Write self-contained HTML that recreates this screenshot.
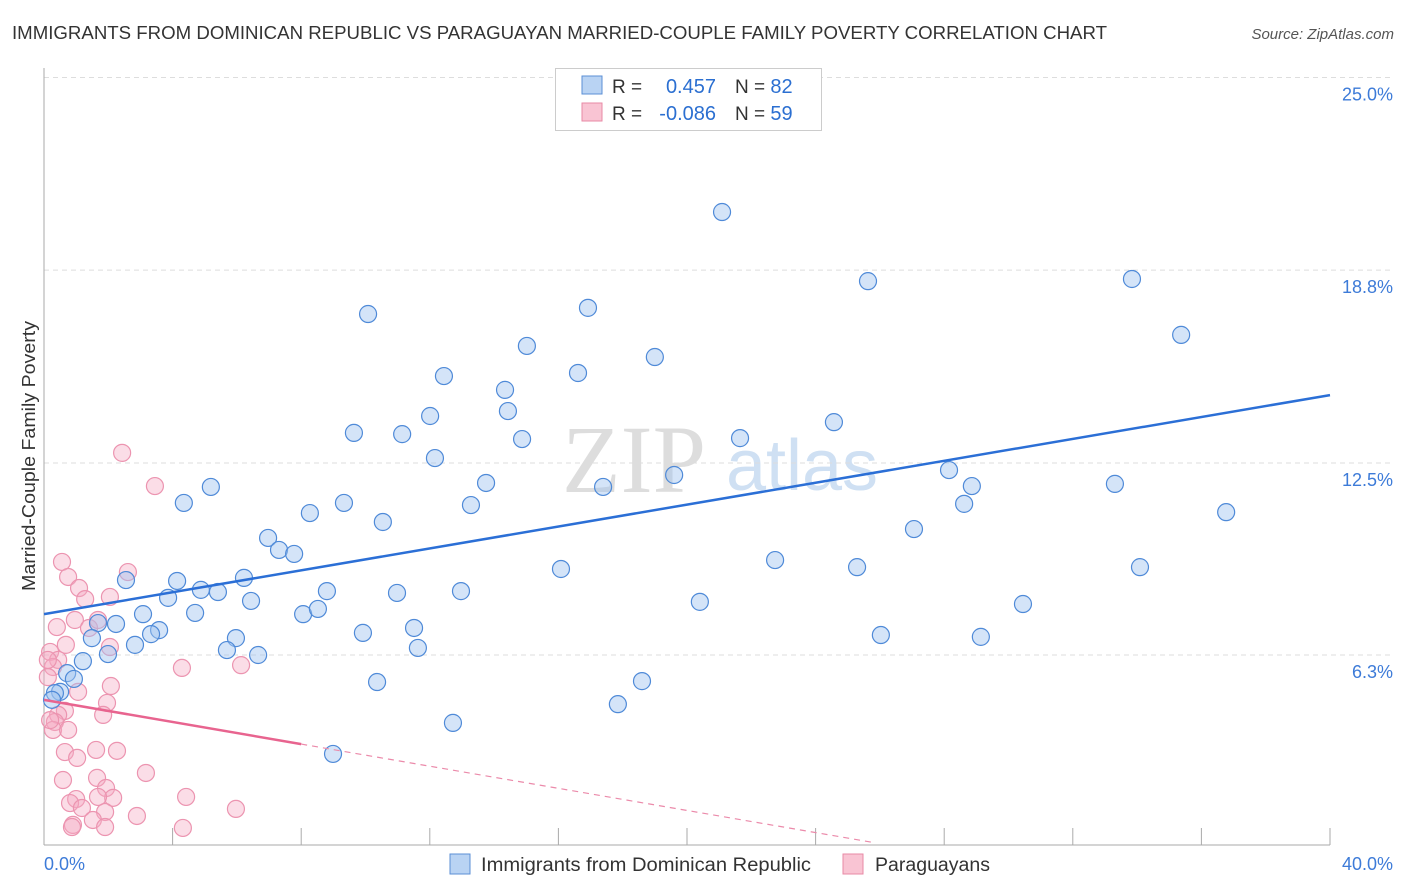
<!DOCTYPE html>
<html><head><meta charset="utf-8">
<style>
body{margin:0;background:#fff;font-family:"Liberation Sans",sans-serif;}
#wrap{position:relative;width:1406px;height:892px;overflow:hidden;}
</style></head>
<body>
<div id="wrap">
<svg id="svg" width="1406" height="892" xmlns="http://www.w3.org/2000/svg">
<text x="12" y="39" font-size="18" fill="#333" textLength="1095" lengthAdjust="spacingAndGlyphs">IMMIGRANTS FROM DOMINICAN REPUBLIC VS PARAGUAYAN MARRIED-COUPLE FAMILY POVERTY CORRELATION CHART</text>
<text x="1394" y="39" font-size="15" fill="#555" font-style="italic" text-anchor="end">Source: ZipAtlas.com</text>
<text x="634" y="492" font-size="96" fill="#ddd" font-family="Liberation Serif" text-anchor="middle">ZIP</text>
<text x="802" y="490" font-size="72" fill="#cfe0f3" text-anchor="middle">atlas</text>
<g id="grid"></g>
<g id="axes"></g>
<g id="pts"></g>
<g id="trend"></g>
<text transform="translate(35,456) rotate(-90)" font-size="18" fill="#333" text-anchor="middle" textLength="270" lengthAdjust="spacingAndGlyphs">Married-Couple Family Poverty</text>
<g>
<rect x="555.5" y="68.5" width="266" height="62" fill="#fff" stroke="#ccc"/>
<rect x="582" y="76" width="20" height="18" fill="#b9d3f3" stroke="#5b8fd6"/>
<rect x="582" y="103" width="20" height="18" fill="#f9c4d3" stroke="#e88aa6"/>
<text x="612" y="93" font-size="19" fill="#333">R =</text>
<text x="716" y="93" font-size="20" fill="#2b6fd1" text-anchor="end">0.457</text>
<text x="735" y="93" font-size="19" fill="#333">N = <tspan fill="#2b6fd1" font-size="20">82</tspan></text>
<text x="612" y="120" font-size="19" fill="#333">R =</text>
<text x="716" y="120" font-size="20" fill="#2b6fd1" text-anchor="end">-0.086</text>
<text x="735" y="120" font-size="19" fill="#333">N = <tspan fill="#2b6fd1" font-size="20">59</tspan></text>
</g>
<g>
<rect x="450" y="854" width="20" height="20" fill="#b9d3f3" stroke="#5b8fd6"/>
<text x="481" y="871" font-size="19" fill="#333" textLength="330" lengthAdjust="spacingAndGlyphs">Immigrants from Dominican Republic</text>
<rect x="843" y="854" width="20" height="20" fill="#f9c4d3" stroke="#e88aa6"/>
<text x="875" y="871" font-size="19" fill="#333" textLength="115" lengthAdjust="spacingAndGlyphs">Paraguayans</text>
</g>
</svg>
</div>
<script>
const blueX=[21.09,25.63,33.84,35.37,10.08,16.92,15.02,19.0,12.44,16.61,14.34,14.43,12.01,9.64,11.14,14.87,21.65,24.57,12.16,19.6,13.75,17.39,28.15,28.86,33.31,4.35,5.19,9.33,13.28,8.27,10.54,28.62,36.77,27.06,6.97,7.31,7.78,22.74,16.08,25.29,34.09,2.55,4.14,6.22,3.86,4.88,5.41,8.8,10.98,12.97,6.44,20.4,30.45,3.08,4.7,8.06,8.52,2.24,1.68,3.58,3.33,9.92,11.51,26.03,29.14,1.49,5.97,2.83,1.99,5.69,6.66,11.63,1.21,0.72,0.93,10.36,18.6,0.5,0.34,17.85,12.72,8.99,0.25];
const blueY=[20.67,18.42,18.49,16.67,17.35,17.55,16.31,15.95,15.33,15.43,14.88,14.19,14.03,13.48,13.44,13.28,13.31,13.83,12.66,12.11,11.85,11.72,12.27,11.75,11.82,11.2,11.72,11.2,11.13,10.87,10.58,11.17,10.9,10.35,10.06,9.67,9.54,9.34,9.05,9.11,9.11,8.69,8.66,8.76,8.11,8.37,8.3,8.33,8.27,8.33,8.01,7.98,7.91,7.58,7.62,7.58,7.75,7.26,7.29,7.06,6.93,6.97,7.13,6.9,6.84,6.8,6.8,6.58,6.28,6.41,6.25,6.48,6.05,5.66,5.47,5.37,5.4,5.05,5.01,4.65,4.04,3.03,4.79];
const pinkX=[0.56,0.75,1.09,1.28,2.61,2.05,0.4,0.96,1.4,1.68,0.68,2.05,0.19,0.44,0.28,0.12,1.06,2.08,1.96,1.84,0.65,0.44,0.34,0.28,0.75,0.65,1.03,1.62,2.27,0.59,1.65,1.93,2.15,1.68,1.0,0.81,1.18,1.9,1.52,0.9,1.9,2.89,3.17,4.42,5.97,4.32,4.29,6.13,0.19,2.43,3.45,0.12,0.87];
const pinkY=[9.28,8.79,8.43,8.07,8.95,8.14,7.16,7.39,7.13,7.39,6.58,6.51,6.35,6.09,5.86,5.53,5.05,5.24,4.69,4.3,4.43,4.3,4.07,3.81,3.81,3.09,2.9,3.16,3.13,2.18,2.25,1.92,1.6,1.63,1.56,1.43,1.27,1.14,0.88,0.72,0.65,1.01,2.41,1.63,1.24,0.62,5.83,5.92,4.13,12.83,11.75,6.09,0.65];
const yTicks=[25.05,18.78,12.5,6.25];
const yTickLabels=["25.0%","18.8%","12.5%","6.3%"];
const xTicks=[0,4,8,12,16,20,24,28,32,36,40];
const blueTrend=[7.58,14.71];
const pinkTrend={intercept:4.79,slope:-0.18,solidEnd:8,dashEnd:25.85};
const NS="http://www.w3.org/2000/svg";
const X=v=>44+v*32.15, Y=v=>847-v*30.72;
function mk(tag,attrs,parent){const e=document.createElementNS(NS,tag);for(const k in attrs)e.setAttribute(k,attrs[k]);document.getElementById(parent).appendChild(e);return e;}
yTicks.forEach((t,i)=>{
 const g=mk('line',{x1:44,x2:1394,y1:Y(t),y2:Y(t),stroke:'#ddd','stroke-dasharray':'5,4'},'grid');
 
 
 const tx=mk('text',{x:1393,y:Y(t)+23,'font-size':18,fill:'#3d7bd8','text-anchor':'end'},'grid');
 tx.textContent=yTickLabels[i];
 
 
});
let a=mk('line',{x1:44,x2:44,y1:68,y2:845,stroke:'#aaa'},'axes');


a=mk('line',{x1:44,x2:1330,y1:845,y2:845,stroke:'#aaa'},'axes');


xTicks.forEach(t=>{const l=mk('line',{x1:X(t),x2:X(t),y1:828,y2:845,stroke:'#aaa'},'axes');
 
 });
let tl=mk('text',{x:44,y:870,'font-size':18,fill:'#3d7bd8'},'axes');tl.textContent='0.0%';


tl=mk('text',{x:1393,y:870,'font-size':18,fill:'#3d7bd8','text-anchor':'end'},'axes');tl.textContent='40.0%';


pinkX.forEach((x,i)=>{const c=mk('circle',{cx:X(x),cy:Y(pinkY[i]),r:8.5,fill:'rgba(246,170,195,0.4)',stroke:'#ec94b0','stroke-width':1.2},'pts');
 
 });
blueX.forEach((x,i)=>{const c=mk('circle',{cx:X(x),cy:Y(blueY[i]),r:8.5,fill:'rgba(160,195,240,0.45)',stroke:'#4f8ad8','stroke-width':1.2},'pts');
 
 });
let t=mk('line',{x1:X(0),y1:Y(blueTrend[0]),x2:X(40),y2:Y(blueTrend[1]),stroke:'#2b6fd6','stroke-width':2.5},'trend');


const pY=x=>pinkTrend.intercept+pinkTrend.slope*x;
t=mk('line',{x1:X(0),y1:Y(pY(0)),x2:X(pinkTrend.solidEnd),y2:Y(pY(pinkTrend.solidEnd)),stroke:'#e8648f','stroke-width':2.5},'trend');


t=mk('line',{x1:X(pinkTrend.solidEnd),y1:Y(pY(pinkTrend.solidEnd)),x2:X(pinkTrend.dashEnd),y2:Y(pY(pinkTrend.dashEnd)),stroke:'#eb8aaa','stroke-width':1.2,'stroke-dasharray':'6,5'},'trend');


</script>
</body></html>
